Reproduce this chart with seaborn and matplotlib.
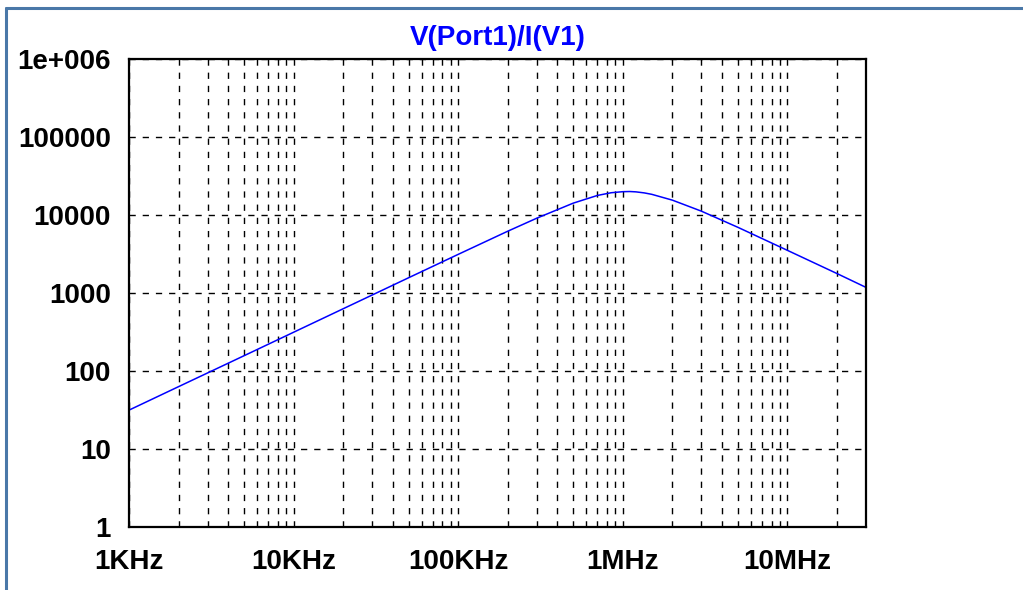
import numpy as np
import pandas as pd
import matplotlib
matplotlib.use('Agg')
import matplotlib.pyplot as plt
import matplotlib.ticker as mticker
from matplotlib.lines import Line2D
import seaborn as sns

sns.set_style('white')
plt.rcParams['font.family'] = ['Liberation Sans', 'DejaVu Sans']

# values
freq = [1e3, 2e3, 5e3, 1e4, 2e4, 5e4, 1e5, 2e5, 3e5, 5e5, 7e5, 8.5e5,
        1e6, 1.1e6, 1.2e6, 1.35e6, 1.5e6, 2e6, 3e6, 5e6, 1e7, 2e7, 3e7]
zmag = [31.5, 63, 157, 314, 628, 1570, 3130, 6200, 9100, 14200, 17800, 19300,
        19900, 20000, 19800, 19200, 18400, 15500, 11200, 6950, 3520, 1775, 1180]

yticks = [1, 10, 100, 1000, 10000, 100000, 1000000]
ylabels = ['1', '10', '100', '1000', '10000', '100000', '1e+006']
xticks = [1e3, 1e4, 1e5, 1e6, 1e7]
xlabels = ['1KHz', '10KHz', '100KHz', '1MHz', '10MHz']

df = pd.DataFrame({'freq': freq, 'z': zmag})

fig = plt.figure(figsize=(10.23, 5.9), dpi=100)
ax = fig.add_axes([129 / 1023, 1 - 527 / 590, (866 - 129) / 1023, (527 - 59) / 590])

sns.lineplot(data=df, x='freq', y='z', ax=ax, color='#0000ff', linewidth=1.1)

ax.set_xscale('log')
ax.set_yscale('log')
ax.set_xlim(1e3, 3e7)
ax.set_ylim(1, 1e6)

ax.xaxis.set_major_locator(mticker.FixedLocator(xticks))
ax.xaxis.set_major_formatter(mticker.FixedFormatter(xlabels))
ax.xaxis.set_minor_locator(mticker.LogLocator(base=10, subs=np.arange(2, 10), numticks=20))
ax.xaxis.set_minor_formatter(mticker.NullFormatter())
ax.yaxis.set_major_locator(mticker.FixedLocator(yticks))
ax.yaxis.set_major_formatter(mticker.FixedFormatter(ylabels))
ax.yaxis.set_minor_locator(mticker.LogLocator(base=10, subs=np.arange(2, 10), numticks=20))
ax.yaxis.set_minor_formatter(mticker.NullFormatter())

ax.grid(which='major', axis='both', color='black', linestyle=(0, (4.5, 5)), linewidth=1.0)
ax.grid(which='minor', axis='x', color='black', linestyle=(0, (4.5, 5)), linewidth=1.0)
ax.grid(which='minor', axis='y', visible=False)

ax.tick_params(axis='x', which='major', direction='out', length=11, width=1.5,
               pad=5, labelsize=20, colors='black')
ax.tick_params(axis='x', which='minor', direction='inout', length=8, width=1.3,
               colors='black')
ax.tick_params(axis='y', which='major', direction='out', length=12, width=1.5,
               pad=1, labelsize=20, colors='black')
ax.tick_params(axis='y', which='minor', direction='out', length=5, width=1.3,
               colors='black')
for lab in ax.get_xticklabels() + ax.get_yticklabels():
    lab.set_fontweight('bold')

for s in ax.spines.values():
    s.set_color('black')
    s.set_linewidth(1.6)

ax.set_xlabel('')
ax.set_ylabel('')
ax.set_title('V(Port1)/I(V1)', color='#0000ff', fontsize=20, fontweight='bold', pad=10)

# window frame
fc = '#4a78a8'
fig.add_artist(Line2D([6 / 1023, 6 / 1023], [0, 1 - 8 / 590], color=fc, linewidth=2.2,
                      transform=fig.transFigure))
fig.add_artist(Line2D([6 / 1023, 1], [1 - 8 / 590, 1 - 8 / 590], color=fc, linewidth=2.2,
                      transform=fig.transFigure))

fig.savefig('out.png', dpi=100)
